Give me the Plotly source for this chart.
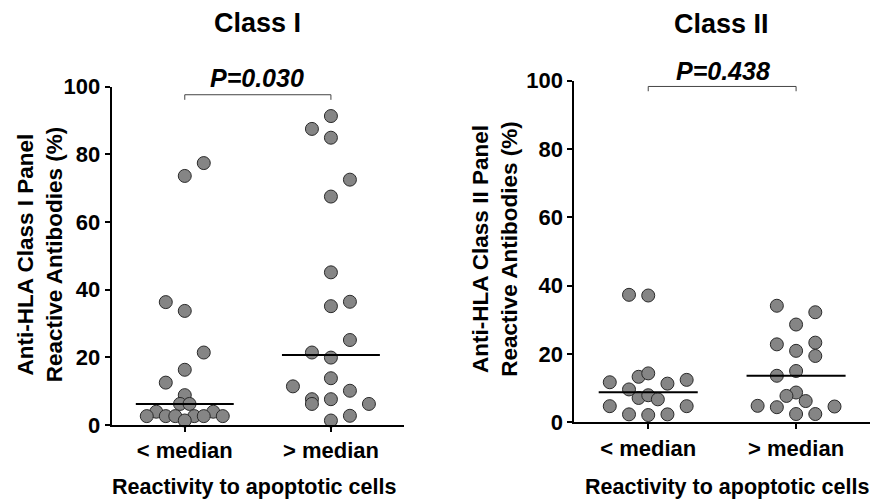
import numpy as np
import plotly.graph_objects as go

W, H = 875, 502

categories = ["< median", "> median"]

# Class I values (%)
c1_low = [73.6, 77.4, 36.3, 33.7, 21.4, 16.3, 12.5, 8.8, 6.2, 6.2, 3.9, 3.9,
          2.6, 2.6, 2.6, 2.6, 2.6, 2.6, 1.3]
c1_high = [91.3, 87.5, 84.9, 72.5, 67.5, 45.1, 36.4, 35.1, 25.1, 21.4, 19.9, 13.8,
           11.4, 10.1, 7.6, 7.6, 6.2, 6.2, 2.7, 1.3]
# Class II values (%)
c2_low = [37.3, 37.1, 11.7, 13.3, 14.3, 11.3, 12.4, 9.6, 7.1, 7.9, 6.7, 4.7, 4.7,
          2.3, 2.1, 2.3]
c2_high = [34.1, 32.2, 28.6, 22.8, 23.3, 20.9, 19.4, 15.0, 13.6, 8.7, 7.7, 6.2,
           4.8, 4.4, 4.6, 2.4, 2.4]

# scatter spread (column index of each dot, as drawn in the figure)
c1_low_col = [0, 2, -2, 0, 2, 0, -2, 0, -0.5, 0.5, -3, 3, -4, -2, -1, 1, 2, 4, 0]
c1_high_col = [0, -2, 0, 2, 0, 0, 2, 0, 2, -2, 0, 0, -4, 2, -2, 0, -2, 4, 2, 0]
c2_low_col = [-2, 0, -4, -1, 0, 2, 4, -2, -1, 0, 1, -4, 4, -2, 0, 2]
c2_high_col = [-2, 2, 0, -2, 2, 0, 2, 0, -2, 0, -1, 1, -4, -2, 4, 0, 2]

p_texts = ["P=0.030", "P=0.438"]
titles = ["Class I", "Class II"]
ytitles = ["Anti-HLA Class I Panel<br>Reactive Antibodies (%)",
           "Anti-HLA Class II Panel<br>Reactive Antibodies (%)"]
xtitle = "Reactivity to apoptotic cells"

STEP = 0.065
HALF = 0.335
FONT = "Liberation Sans, Arial, sans-serif"

fig = go.Figure()

panels = [
    dict(xa="x", ya="y", groups=[(c1_low, c1_low_col), (c1_high, c1_high_col)]),
    dict(xa="x2", ya="y2", groups=[(c2_low, c2_low_col), (c2_high, c2_high_col)]),
]

for p in panels:
    for gi, (vals, cols) in enumerate(p["groups"]):
        xs = [gi + c * STEP for c in cols]
        fig.add_trace(go.Scatter(
            x=xs, y=vals, mode="markers", xaxis=p["xa"], yaxis=p["ya"],
            marker=dict(size=13, color="#858585",
                        line=dict(color="#2a2a2a", width=1)),
            cliponaxis=False, showlegend=False, hoverinfo="y"))
        med = float(np.median(vals))
        fig.add_trace(go.Scatter(
            x=[gi - HALF, gi + HALF], y=[med, med], mode="lines",
            xaxis=p["xa"], yaxis=p["ya"], line=dict(color="black", width=2),
            showlegend=False, hoverinfo="skip"))

# significance brackets
brackets = [("x", "y", 97.6, 96.1), ("x2", "y2", 98.3, 96.9)]
for xa, ya, top, bot in brackets:
    fig.add_trace(go.Scatter(
        x=[0, 0, 1, 1], y=[bot, top, top, bot], mode="lines",
        xaxis=xa, yaxis=ya, line=dict(color="#444444", width=1),
        showlegend=False, hoverinfo="skip"))


def px_x(v):
    return v / W


def ypix(v):
    # vertical pixel placement as measured on the rendered page
    return (v - 11.0) / 0.955


def px_y(v):
    return 1 - ypix(v) / H


def ydom(top, bottom):
    return [1 - ypix(bottom) / H, 1 - ypix(top) / H]


axis_common = dict(
    showline=True, linecolor="black", linewidth=2, ticks="outside",
    ticklen=5, tickwidth=2, tickcolor="black", showgrid=False, zeroline=False,
    tickfont=dict(family=FONT, size=22, color="black", weight="bold"),
)

fig.update_layout(
    width=W, height=H, autosize=False,
    margin=dict(l=0, r=0, t=0, b=0),
    paper_bgcolor="white", plot_bgcolor="white",
    xaxis=dict(domain=[111.7 / W, 404 / W], range=[-0.5, 1.5],
               tickvals=[0, 1], ticktext=categories, anchor="y", **axis_common),
    yaxis=dict(domain=ydom(86, 426), range=[0, 100],
               tickvals=[0, 20, 40, 60, 80, 100], anchor="x", **axis_common),
    xaxis2=dict(domain=[574.3 / W, 870 / W], range=[-0.5, 1.5],
                tickvals=[0, 1], ticktext=categories, anchor="y2", **axis_common),
    yaxis2=dict(domain=ydom(80, 423.3), range=[0, 100],
                tickvals=[0, 20, 40, 60, 80, 100], anchor="x2", **axis_common),
)

annots = []
title_pos = [(257, 22), (721.7, 23)]
p_pos = [(257, 77), (722.5, 70)]
ytitle_pos = [(39.5, 255), (495, 250)]
xtitle_pos = [(254, 488), (727, 488)]
for i in range(2):
    annots.append(dict(text=titles[i], x=px_x(title_pos[i][0]), y=px_y(title_pos[i][1]),
                       xref="paper", yref="paper", showarrow=False,
                       xanchor="center", yanchor="middle",
                       font=dict(family=FONT, size=27, color="black", weight="bold")))
    annots.append(dict(text="<i>" + p_texts[i] + "</i>", x=px_x(p_pos[i][0]), y=px_y(p_pos[i][1]),
                       xref="paper", yref="paper", showarrow=False,
                       xanchor="center", yanchor="middle",
                       font=dict(family=FONT, size=25, color="black", weight="bold")))
    annots.append(dict(text=ytitles[i], x=px_x(ytitle_pos[i][0]), y=px_y(ytitle_pos[i][1]),
                       xref="paper", yref="paper", showarrow=False, textangle=-90,
                       xanchor="center", yanchor="middle",
                       font=dict(family=FONT, size=22.5, color="black", weight="bold")))
    annots.append(dict(text=xtitle, x=px_x(xtitle_pos[i][0]), y=px_y(xtitle_pos[i][1]),
                       xref="paper", yref="paper", showarrow=False,
                       xanchor="center", yanchor="middle",
                       font=dict(family=FONT, size=21.5, color="black", weight="bold")))
fig.update_layout(annotations=annots)

fig.write_html("out.html")
